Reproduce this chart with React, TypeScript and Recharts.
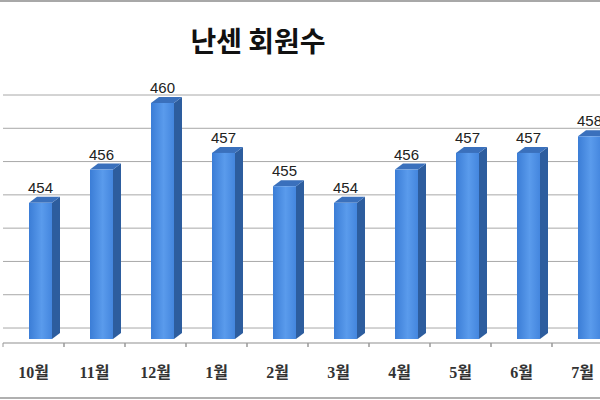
import React from 'react';
import { BarChart, Bar, XAxis, YAxis, CartesianGrid, LabelList } from 'recharts';

const months = ['10월', '11월', '12월', '1월', '2월', '3월', '4월', '5월', '6월', '7월'];
const members = [454, 456, 460, 457, 455, 454, 456, 457, 457, 458];
const yTicks = [446, 448, 450, 452, 454, 456, 458, 460];

const data = months.map((m, i) => ({ month: m, members: members[i] }));

const DEPTH_X = 8;
const DEPTH_Y = 6;

// 3D-looking column: front face + side + top
const Column3D = (props: any) => {
  const { x, y, width, height } = props;
  const cx = x + width / 2;
  const fl = cx - 5;
  const fr = cx + 18;
  const top = y + 8;
  const bottom = y + height - 4;
  return (
    <g>
      <polygon
        points={`${fr},${top} ${fr + DEPTH_X},${top - DEPTH_Y} ${fr + DEPTH_X},${bottom - DEPTH_Y} ${fr},${bottom}`}
        fill="#2d5d9e"
      />
      <polygon
        points={`${fl},${top} ${fl + DEPTH_X},${top - DEPTH_Y} ${fr + DEPTH_X},${top - DEPTH_Y} ${fr},${top}`}
        fill="#3a70bc"
      />
      <rect x={fl} y={top} width={fr - fl} height={bottom - top} fill="url(#frontFace)" />
    </g>
  );
};

const ValueLabel = (props: any) => {
  const { x, y, width, value } = props;
  const cx = x + width / 2 + 6.5;
  return (
    <text x={cx} y={y - 2} textAnchor="middle" fontSize={15} fill="#222" fontFamily="'Liberation Sans', Arial, sans-serif">
      {value}
    </text>
  );
};

const MonthTick = (props: any) => {
  const { x, y, payload } = props;
  return (
    <g>
      <line x1={x - 30.5} y1={y - 8} x2={x - 30.5} y2={y - 4} stroke="#999" />
      <line x1={x + 30.5} y1={y - 8} x2={x + 30.5} y2={y - 4} stroke="#999" />
      <text x={x} y={y + 27} textAnchor="middle" fontSize={16} fontWeight={600} fill="#333"
        fontFamily="'Liberation Serif', 'Noto Sans CJK KR', serif">
        {payload.value}
      </text>
    </g>
  );
};

export default function App() {
  return (
    <div style={{ position: 'absolute', left: 0, top: 0, width: 600, height: 400, overflow: 'hidden', background: '#fff' }}>
      <div style={{ position: 'absolute', left: 0, top: 0, width: 600, height: 2, background: '#a8a8a8' }} />
      <div style={{ position: 'absolute', left: 0, top: 397, width: 600, height: 2, background: '#b0b0b0' }} />
      <div
        style={{
          position: 'absolute', left: 158, top: 20, width: 200, textAlign: 'center',
          fontFamily: "'Noto Sans CJK KR', sans-serif", fontWeight: 700, fontSize: 28, color: '#111',
        }}
      >
        난센 회원수
      </div>
      <BarChart width={620} height={400} data={data} margin={{ top: 95, right: 7, left: 3, bottom: 17 }} barCategoryGap={0}>
        <defs>
          <linearGradient id="frontFace" x1="0" y1="0" x2="1" y2="0">
            <stop offset="0%" stopColor="#3b7dd6" />
            <stop offset="55%" stopColor="#5a9bec" />
            <stop offset="100%" stopColor="#4486de" />
          </linearGradient>
        </defs>
        <CartesianGrid vertical={false} stroke="#a8a8a8" />
        <XAxis dataKey="month" height={40} axisLine={{ stroke: '#bbb' }} tickLine={false} tick={<MonthTick />} interval={0} />
        <YAxis hide domain={[445.1, 460]} ticks={yTicks} allowDataOverflow />
        <Bar dataKey="members" barSize={32} shape={<Column3D />} isAnimationActive={false}>
          <LabelList dataKey="members" content={<ValueLabel />} />
        </Bar>
      </BarChart>
    </div>
  );
}
